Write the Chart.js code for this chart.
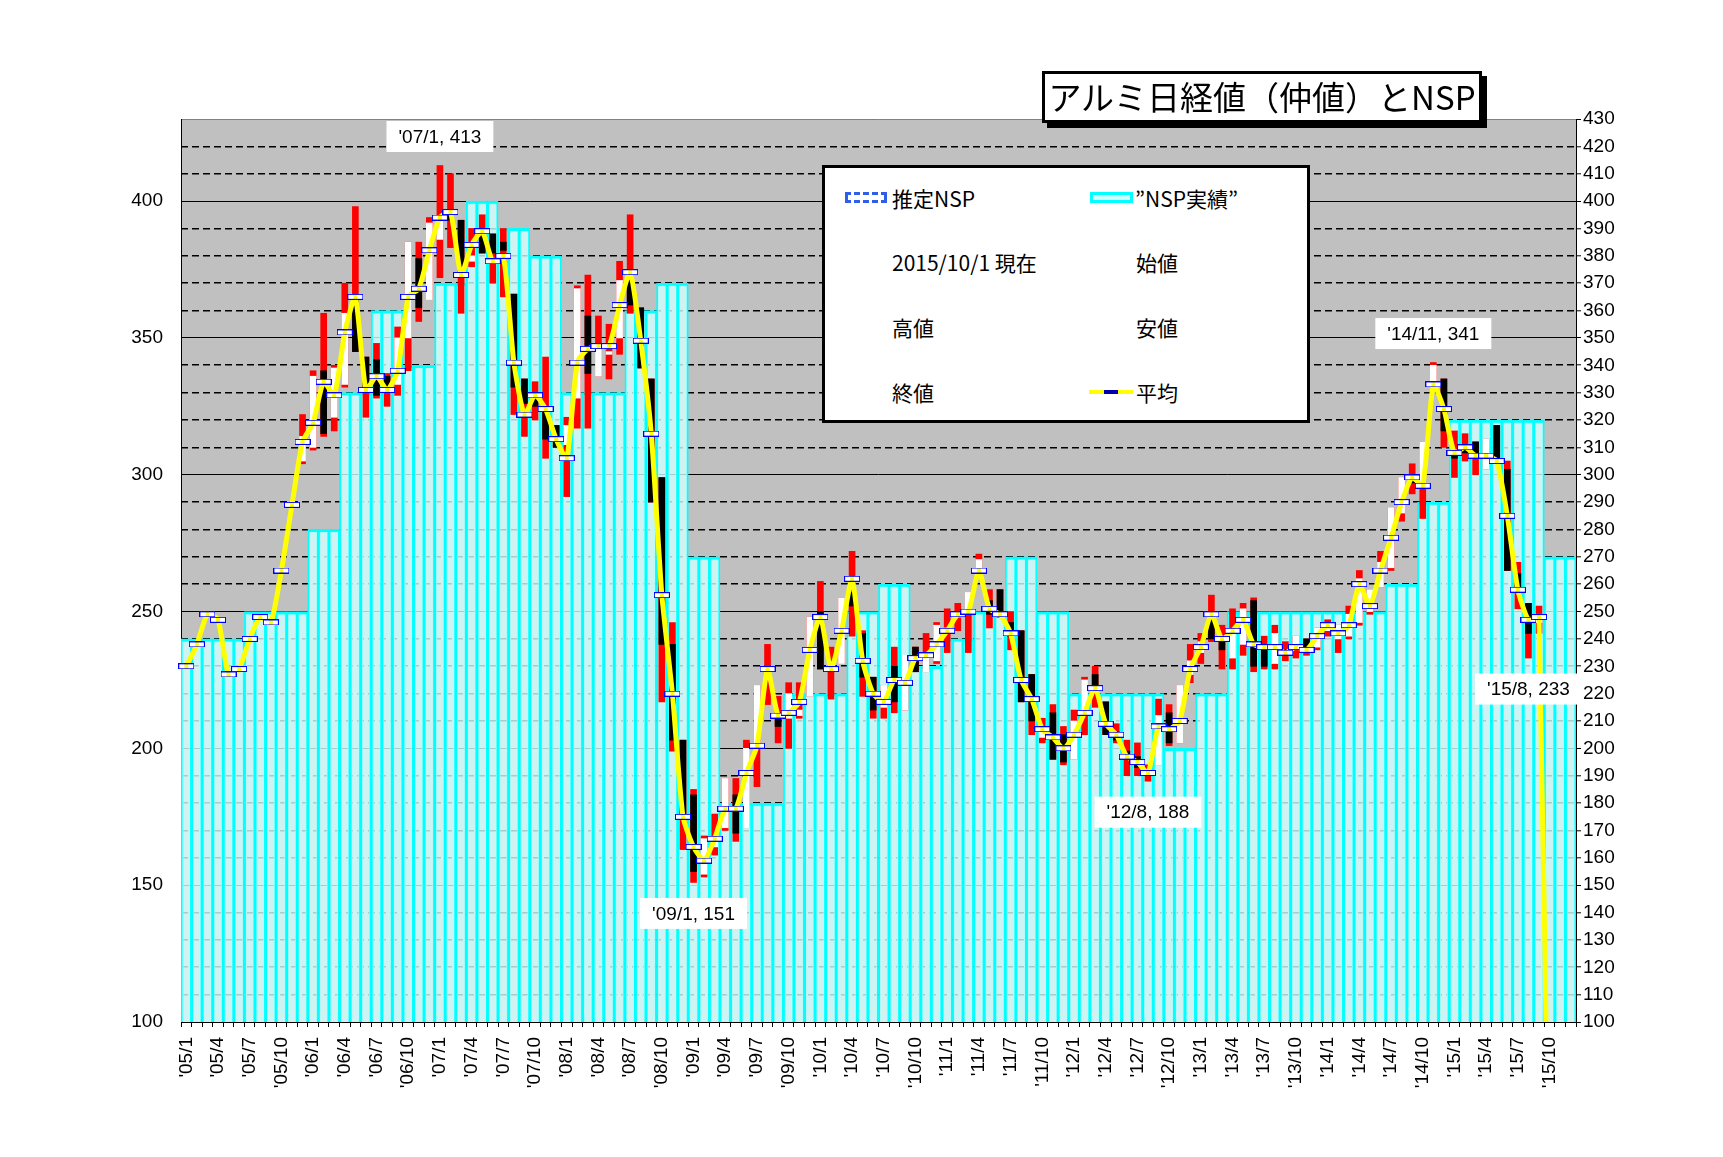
<!DOCTYPE html>
<html>
<head>
<meta charset="utf-8">
<script src="https://cdn.jsdelivr.net/npm/chart.js"></script>
<style>
html,body{margin:0;padding:0;background:#fff;}
#wrap{position:relative;width:1723px;height:1157px;overflow:hidden;}
#chart{position:absolute;left:0;top:0;}
#title{position:absolute;left:1042px;top:71px;width:440px;height:52px;box-sizing:border-box;border:3px solid #000;background:#fff;box-shadow:5px 5px 0 #000;font-family:"Noto Sans CJK JP",sans-serif;font-size:33px;line-height:45px;text-align:center;color:#000;white-space:nowrap;}
#legend{position:absolute;left:822px;top:165px;width:488px;height:258px;box-sizing:border-box;border:3px solid #000;background:#fff;font-family:"Noto Sans CJK JP",sans-serif;font-size:21px;color:#000;}
#legend .t{position:absolute;line-height:24px;white-space:nowrap;}
#legend .ic{position:absolute;box-sizing:border-box;}
</style>
</head>
<body>
<div id="wrap">
  <canvas id="chart" width="1723" height="1157"></canvas>
  <div id="title">アルミ日経値（仲値）とNSP</div>
  <div id="legend">
    <div class="ic" style="left:20px;top:24px;width:42px;height:11px;border:3px dashed #2f5fe8;"></div>
    <div class="t" style="left:67px;top:18px;">推定NSP</div>
    <div class="ic" style="left:265px;top:24px;width:43px;height:11px;border:3px solid #00ffff;background:#ccffff;"></div>
    <div class="t" style="left:310px;top:18px;">”NSP実績”</div>
    <div class="t" style="left:67px;top:82px;">2015/10/1 現在</div>
    <div class="t" style="left:311px;top:82px;">始値</div>
    <div class="t" style="left:67px;top:147px;">高値</div>
    <div class="t" style="left:311px;top:147px;">安値</div>
    <div class="t" style="left:67px;top:212px;">終値</div>
    <div class="ic" style="left:264px;top:222px;width:44px;height:4px;background:#ffff00;"><div style="position:absolute;left:15px;top:0;width:14px;height:4px;background:#0000b0;"></div></div>
    <div class="t" style="left:311px;top:212px;">平均</div>
  </div>
</div>
<script>
// ---------------- data ----------------
// monthly categories: '05/1 ... '15/12
const months = [];
for (let y = 2005; y <= 2015; y++) {
  for (let m = 1; m <= 12; m++) months.push("'" + String(y).slice(2) + "/" + m);
}
const xTickLabels = ["'05/1","'05/4","'05/7","'05/10","'06/1","'06/4","'06/7","'06/10",
  "'07/1","'07/4","'07/7","'07/10","'08/1","'08/4","'08/7","'08/10",
  "'09/1","'09/4","'09/7","'09/10","'10/1","'10/4","'10/7","'10/10",
  "'11/1","'11/4","'11/7","'11/10","'12/1","'12/4","'12/7","'12/10",
  "'13/1","'13/4","'13/7","'13/10","'14/1","'14/4","'14/7","'14/10",
  "'15/1","'15/4","'15/7","'15/10"];

// NSP actual (quarterly, 2005Q1 .. 2015Q4)
const nspQuarterly = [240,240,250,250, 280,330,360,340, 370,400,390,380, 330,330,360,370,
  270,180,180,220, 220,250,260,230, 240,250,270,250, 220,220,220,200,
  220,250,250,250, 250,250,260,290, 320,320,320,270];

const N11 = [null,null,null,null,null,null,null,null,null,null,null];
const openV = N11.concat([305,
  310,338,321,333,365,343,342,336,333,350,379,364,
  386,396,393,378,387,388,385,366,335,330,325,318,
  311,328,358,336,344,350,371,361,335,299,238,203,
  183,154,164,171,183,171,200,225,213,211,212,219,
  250,230,231,257,242,226,215,230,214,237,228,232,
  242,248,250,265,254,258,246,243,227,204,213,205,
  196,213,227,217,206,199,197,192,194,213,202,227,
  235,249,241,233,238,254,237,231,236,237,240,237,
  243,240,241,246,250,259,266,286,300,296,333,335,
  308,311,312,302,318,302,264,253,246]);
const highV = N11.concat([322,
  338,359,340,370,398,343,348,337,354,385,385,394,
  413,410,393,390,395,388,390,366,335,334,343,318,
  321,369,373,358,355,378,395,361,335,299,246,203,
  185,168,176,189,189,203,223,238,219,224,224,248,
  261,237,255,272,243,226,223,237,234,237,242,246,
  251,253,257,271,258,258,250,243,227,211,216,208,
  214,226,230,217,209,203,202,194,218,216,223,238,
  242,256,245,251,253,255,241,245,239,241,240,244,
  247,245,252,265,258,272,288,299,304,312,341,335,
  316,315,312,313,318,305,268,253,252]);
const lowV = N11.concat([304,
  309,314,316,332,345,321,328,325,329,338,356,364,
  372,383,359,376,381,370,365,322,314,320,306,310,
  292,317,317,336,335,344,359,339,290,217,199,163,
  151,153,161,170,166,171,186,216,202,200,211,219,
  229,218,231,241,219,211,211,213,214,228,228,231,
  235,243,235,264,244,248,236,217,205,202,196,194,
  196,205,215,205,202,190,190,188,194,201,202,224,
  231,239,229,229,234,228,229,229,232,233,234,236,
  241,235,240,245,249,259,265,283,293,284,332,310,
  299,305,300,302,306,265,251,233,242]);
const closeV = N11.concat([314,
  336,315,339,359,345,331,329,331,350,385,361,392,
  394,393,373,380,381,381,382,332,326,325,313,310,
  318,368,337,347,345,371,362,339,290,238,203,175,
  155,167,167,189,169,200,223,228,208,220,214,248,
  229,228,255,252,226,214,223,217,234,228,233,245,
  244,250,257,269,249,248,241,217,210,208,196,195,
  210,225,222,205,203,196,193,190,212,202,223,232,
  239,240,236,243,251,230,230,242,235,241,237,244,
  246,245,249,262,258,268,288,299,297,312,340,316,
  306,308,306,313,306,265,258,242,249]);
const avgV = [230,238,249,247,227,229,240,248,246,265,289,312,
  319,334,329,352,365,331,336,331,338,365,368,382,
  394,396,373,384,389,378,380,341,322,329,324,313,
  306,341,346,347,347,362,374,349,315,256,220,175,
  164,159,167,178,178,191,201,229,212,213,217,236,
  248,229,243,262,232,220,217,225,224,233,234,238,
  243,249,250,265,251,249,242,225,218,207,204,200,
  205,213,222,209,205,197,195,191,208,207,210,229,
  237,249,240,243,247,238,237,237,235,237,236,241,
  245,242,245,260,252,265,277,290,299,296,333,324,
  308,310,307,307,305,285,258,247,248,0];

// annotations
const annotLabels = ["'07/1, 413", "'09/1, 151", "'12/8, 188", "'14/11, 341", "'15/8, 233"];
const annotMonth  = ["'07/1", "'09/1", "'12/8", "'14/11", "'15/8"];
const annotValue  = [413, 151, 188, 341, 233];
const annotKind   = ["high", "low", "low", "high", "low"];

// ---------------- derived ----------------
const nspMonthly = [];
nspQuarterly.forEach(v => nspMonthly.push(v, v, v));
const wickData = months.map((m, i) => (lowV[i] == null) ? null : [lowV[i], highV[i]]);
const bodyData = months.map((m, i) => (openV[i] == null) ? null : [Math.min(openV[i], closeV[i]), Math.max(openV[i], closeV[i])]);
const bodyColors = months.map((m, i) => (openV[i] != null && closeV[i] < openV[i]) ? '#000000' : '#ffffff');
const tickSet = new Set(xTickLabels);

// marker image for the average line
const mk = document.createElement('canvas');
mk.width = 16; mk.height = 6;
(function(){
  const c = mk.getContext('2d');
  c.fillStyle = '#ffffff'; c.fillRect(0, 0, 16, 6);
  c.fillStyle = '#ffff00'; c.fillRect(6, 0, 4, 6);
  c.strokeStyle = '#0000ff'; c.lineWidth = 1; c.strokeRect(0.5, 0.5, 15, 5);
})();

const FONT = '"Liberation Sans", "Noto Sans CJK JP", sans-serif';

const bgPlugin = {
  id: 'plotBg',
  beforeDraw(chart) {
    const {ctx, chartArea: a} = chart;
    ctx.save();
    ctx.fillStyle = '#c0c0c0';
    ctx.fillRect(a.left, a.top, a.right - a.left, a.bottom - a.top);
    ctx.restore();
  }
};

const annotPlugin = {
  id: 'annot',
  afterDatasetsDraw(chart) {
    const {ctx} = chart;
    const xs = chart.scales.x, ys = chart.scales.y;
    ctx.save();
    ctx.font = '19px ' + FONT;
    ctx.textAlign = 'center';
    ctx.textBaseline = 'middle';
    annotLabels.forEach((txt, k) => {
      const idx = months.indexOf(annotMonth[k]);
      const x = xs.getPixelForValue(idx);
      const y = ys.getPixelForValue(annotValue[k]);
      const cy = annotKind[k] === 'high' ? y - 29 : y + 31;
      const w = ctx.measureText(txt).width + 24, h = 31;
      ctx.fillStyle = '#ffffff';
      ctx.fillRect(x - w / 2, cy - h / 2, w, h);
      ctx.fillStyle = '#000000';
      ctx.fillText(txt, x, cy + 1);
    });
    ctx.restore();
  }
};

new Chart(document.getElementById('chart'), {
  type: 'bar',
  data: {
    labels: months,
    datasets: [
      {
        type: 'line', label: '平均', data: avgV, yAxisID: 'y',
        borderColor: '#ffff00', borderWidth: 5, tension: 0.2,
        pointStyle: mk, pointRadius: c => (c.raw ? 5 : 0), pointHoverRadius: 0,
        clip: {left: false, right: false, top: false, bottom: 0},
        order: 0
      },
      {
        label: 'body', data: bodyData, yAxisID: 'y', backgroundColor: bodyColors,
        barThickness: 6, grouped: false, minBarLength: 1, clip: 0, order: 1
      },
      {
        label: 'wick', data: wickData, yAxisID: 'y', backgroundColor: '#ff0000',
        barThickness: 6, grouped: false, clip: 0, order: 2
      },
      {
        label: 'NSP実績', data: nspMonthly, yAxisID: 'y',
        backgroundColor: 'rgba(210,255,255,0.8)', borderColor: '#00ffff',
        borderWidth: {top: 3, left: 1.8, right: 1.8, bottom: 0},
        barPercentage: 1, categoryPercentage: 1, grouped: false, clip: 0, order: 3
      }
    ]
  },
  options: {
    responsive: false,
    animation: false,
    events: [],
    layout: {padding: {top: 119, left: 0, right: 0, bottom: 0}},
    plugins: {legend: {display: false}, tooltip: {enabled: false}, title: {display: false}},
    scales: {
      x: {
        type: 'category',
        grid: {display: true, drawOnChartArea: false, drawTicks: true, tickLength: 5, tickColor: '#000', color: '#000'},
        border: {display: true, color: '#000', width: 1},
        ticks: {
          autoSkip: false, maxRotation: 90, minRotation: 90, padding: 10,
          color: '#000', font: {family: FONT, size: 19},
          callback: function(v, i) { const l = months[i]; return tickSet.has(l) ? l : ''; }
        },
        afterFit: s => { s.height = 135; }
      },
      y: {
        position: 'left', min: 100, max: 430,
        grid: {display: false, drawTicks: false},
        border: {display: true, color: '#000', width: 1},
        ticks: {stepSize: 50, includeBounds: false, padding: 18, color: '#000', font: {family: FONT, size: 19}},
        afterFit: s => { s.width = 181; }
      },
      y2: {
        position: 'right', min: 100, max: 430,
        grid: {
          display: true, drawOnChartArea: true, drawTicks: true, tickLength: 5, tickColor: '#000', tickWidth: 1,
          color: c => (c.tick && c.tick.value === 430) ? '#808080' : '#000',
          lineWidth: c => (c.tick && (c.tick.value % 50 === 0 || c.tick.value === 430)) ? 1 : 1.6
        },
        border: {
          display: true, color: '#000', width: 1,
          dash: c => (c.tick && c.tick.value % 50 !== 0 && c.tick.value !== 430) ? [7, 4] : []
        },
        ticks: {stepSize: 10, autoSkip: false, padding: 2, color: '#000', font: {family: FONT, size: 19}},
        afterFit: s => { s.width = 147; }
      }
    }
  },
  plugins: [bgPlugin, annotPlugin]
});
</script>
</body>
</html>
